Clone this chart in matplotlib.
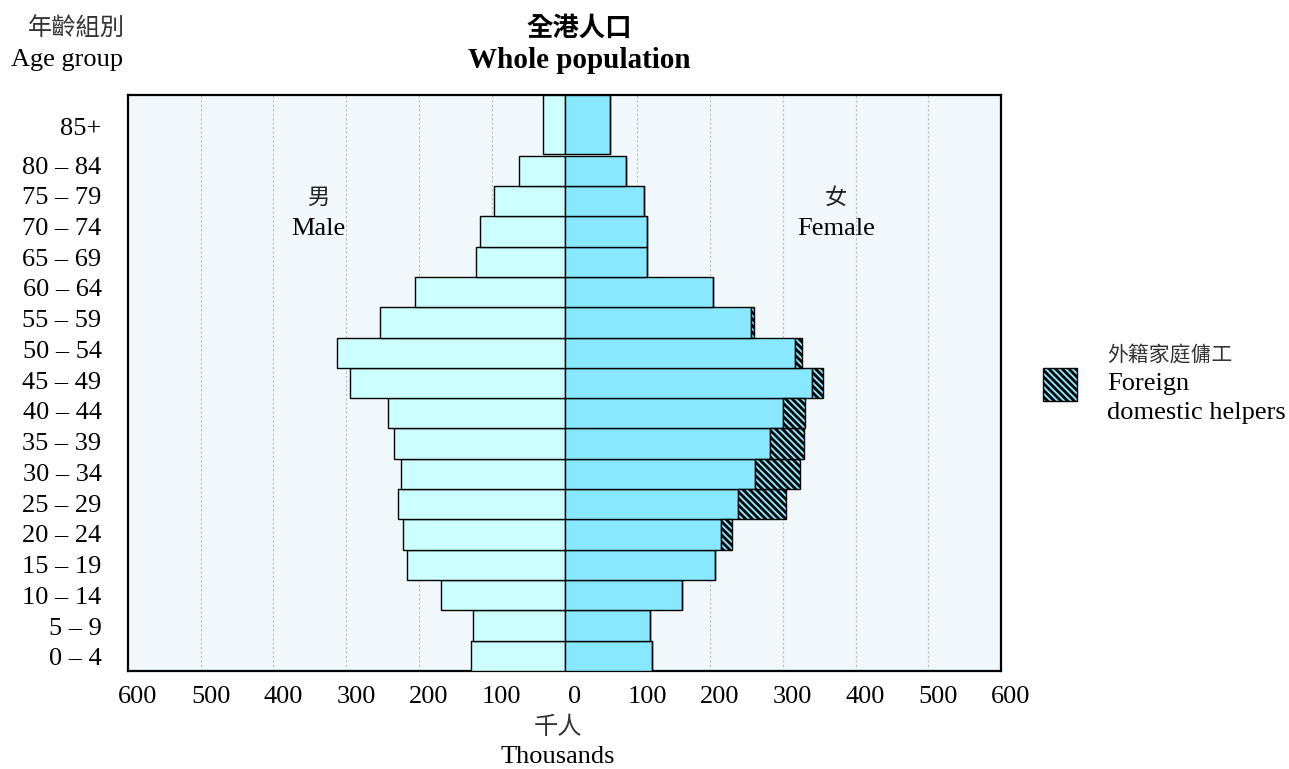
import matplotlib
matplotlib.use("Agg")
import matplotlib.pyplot as plt
import matplotlib.transforms as mtransforms
from matplotlib.patches import Rectangle
import numpy as np

# Data (thousands), youngest group first
age_groups = ["0 – 4", "5 – 9", "10 – 14", "15 – 19", "20 – 24", "25 – 29",
              "30 – 34", "35 – 39", "40 – 44", "45 – 49", "50 – 54", "55 – 59",
              "60 – 64", "65 – 69", "70 – 74", "75 – 79", "80 – 84", "85+"]
male = [129, 126, 170, 217, 222, 229, 225, 234, 242, 295, 313, 253,
        205, 121, 116, 97, 62, 30]
female_local = [120, 118, 161, 207, 215, 238, 262, 282, 301, 340, 317, 256,
                204, 113, 114, 109, 84, 62]
female_fdh = [0, 0, 0, 0, 15, 67, 62, 47, 29, 16, 9, 4,
              0, 0, 0, 0, 0, 0]
xticks = [-600, -500, -400, -300, -200, -100, 0, 100, 200, 300, 400, 500, 600]

plt.rcParams["font.family"] = ["Liberation Serif", "Noto Sans CJK TC"]
plt.rcParams["hatch.linewidth"] = 2.0
plt.rcParams["hatch.color"] = "black"

W, H = 1289, 769
fig = plt.figure(figsize=(W / 100, H / 100), dpi=100)

def fx(px):
    return px / W

def fy(py):
    return 1 - py / H

ax = fig.add_axes([fx(128), fy(671), fx(1001) - fx(128), fy(95) - fy(671)])
ax.set_facecolor("#F0F8FC")

# bar positions: one row per group, 85+ spans a double row at the top
ypos = list(np.arange(17) + 0.5) + [18.025]
heights = [1] * 17 + [1.95]

male_col = "#CCFFFF"
female_col = "#88E8FF"
fdh_hatch = "\\\\\\\\\\"

ax.barh(ypos, [-m for m in male], height=heights, color=male_col,
        edgecolor="black", linewidth=1.0, zorder=3)
ax.barh(ypos, female_local, height=heights, color=female_col,
        edgecolor="black", linewidth=1.0, zorder=3)
ax.barh(ypos, female_fdh, left=female_local, height=heights,
        color=female_col, edgecolor="black", linewidth=1.0,
        hatch=fdh_hatch, zorder=3)

ax.set_xlim(-600, 600)
ax.set_ylim(0, 19)
ax.set_xticks(xticks)
ax.set_xticklabels([str(abs(t)) for t in xticks], fontsize=19)
# labels are spaced a touch wider than the bars in the original
label_pos = list(np.arange(17) * 1.0137 + 0.47) + [17.95]
ax.set_yticks(label_pos)
ax.set_yticklabels(age_groups, fontsize=19)
ax.tick_params(axis="both", length=0)
ax.tick_params(axis="x", pad=11)
ax.tick_params(axis="y", pad=19)

# tick labels in the reference sit a little right of the ticks
offset = mtransforms.ScaledTranslation(10 / 100, 0, fig.dpi_scale_trans)
for lab in ax.get_xticklabels():
    lab.set_transform(lab.get_transform() + offset)

for x in xticks[1:-1]:
    if x != 0:
        ax.axvline(x, color="#BBBBBB", linestyle=(0, (2, 2)), linewidth=0.8,
                   zorder=1)

for s in ax.spines.values():
    s.set_linewidth(1.6)
    s.set_color("black")

# Male / Female labels
ax.text(-339, 15.63, "男", ha="center", va="center", fontsize=16,
        family="Noto Sans CJK TC", color="#222222")
ax.text(-339, 14.58, "Male", ha="center", va="center", fontsize=19)
ax.text(373, 15.63, "女", ha="center", va="center", fontsize=16,
        family="Noto Sans CJK TC", color="#222222")
ax.text(373, 14.58, "Female", ha="center", va="center", fontsize=19)

# Header texts
fig.text(fx(76), fy(28), "年齡組別", ha="center", va="center", fontsize=17.5,
         family="Noto Sans CJK TC", color="#333333")
fig.text(fx(67), fy(60), "Age group", ha="center", va="center", fontsize=19)
fig.text(fx(579), fy(28), "全港人口", ha="center", va="center", fontsize=19,
         family="Noto Sans CJK TC", fontweight="bold")
fig.text(fx(579), fy(61), "Whole population", ha="center", va="center",
         fontsize=21, fontweight="bold")

# x axis label
fig.text(fx(558), fy(727), "千人", ha="center", va="center", fontsize=17.5,
         family="Noto Sans CJK TC", color="#333333")
fig.text(fx(558), fy(757), "Thousands", ha="center", va="center", fontsize=19)

# Legend
fig.add_artist(Rectangle((fx(1043), fy(401)), fx(1077) - fx(1043),
                         fy(368) - fy(401), transform=fig.transFigure,
                         facecolor=female_col, edgecolor="black",
                         linewidth=1.0, hatch=fdh_hatch))
fig.text(fx(1107), fy(355), "外籍家庭傭工", ha="left", va="center",
         fontsize=15, family="Noto Sans CJK TC", color="#333333")
fig.text(fx(1107), fy(384), "Foreign", ha="left", va="center", fontsize=19)
fig.text(fx(1107), fy(413), "domestic helpers", ha="left", va="center",
         fontsize=19)

fig.savefig("out.png", dpi=100)
